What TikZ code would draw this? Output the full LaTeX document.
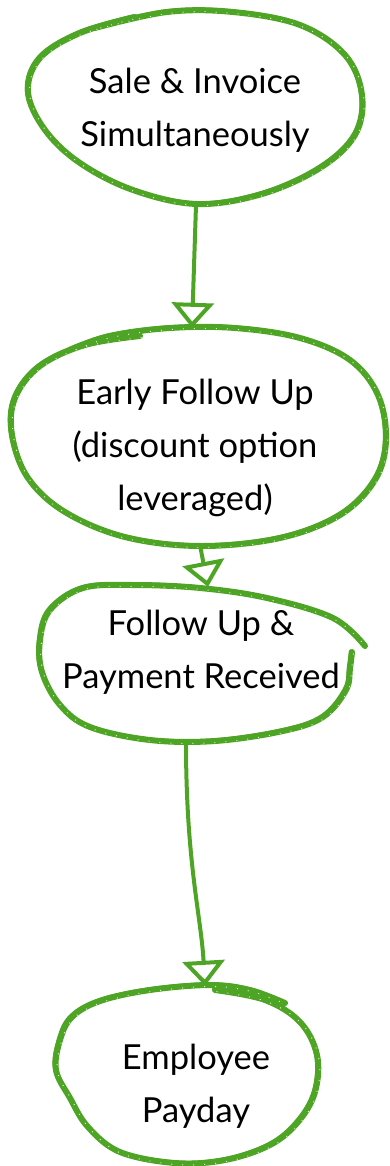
\documentclass[tikz,border=0pt]{standalone}
\usepackage{fontspec}
\setmainfont{Lato}
\usetikzlibrary{shapes.geometric,arrows.meta}
\definecolor{leaf}{RGB}{78,164,36}
\tikzset{
  x=1pt, y=-1pt,
  loop/.style={draw=leaf, line width=6pt, line cap=round, line join=round},
  loopedge/.style={draw=leaf, line width=3pt, line cap=round, line join=round},
  speck/.style={draw=white, line width=1pt, opacity=0.8,
    dash pattern=on 1pt off 10pt},
  stage/.style={shape=ellipse, inner sep=0pt, align=center, text=black,
    font=\fontsize{34.5pt}{53pt}\selectfont},
  conn/.style={draw=leaf, line width=4pt, line cap=round,
    -{Triangle[open, length=25pt, width=42pt]}},
}
% outlines of the four rings
\newcommand\ringA{plot[smooth, tension=0.6] coordinates {
  (95,28) (167,12) (233,12) (300,25) (345,55) (362,95) (355,135) (320,168)
  (262,194) (197,204) (133,190) (80,163) (45,130) (28,92) (40,58) (80,33) (135,17)}}
\newcommand\ringB{plot[smooth, tension=0.6] coordinates {
  (140,336) (85,345) (40,366) (15,398) (12,435) (28,478) (65,512) (125,537)
  (200,546) (280,538) (340,515) (375,480) (386,440) (378,395) (350,360)
  (300,338) (235,328) (170,328) (110,336) (70,350)}}
\newcommand\ringC{plot[smooth, tension=0.6] coordinates {
  (352,652) (350,668) (346,690) (323,717) (283,731) (215,741) (150,740) (90,727)
  (60,705) (42,672) (40,640) (50,610) (83,588) (133,585) (200,588) (267,598)
  (333,618) (365,646)}}
\newcommand\ringD{plot[smooth, tension=0.6] coordinates {
  (215,990) (265,1000) (300,1022) (317,1055) (315,1092) (298,1122) (270,1145)
  (225,1160) (175,1163) (120,1152) (88,1127) (70,1098) (56,1070) (60,1040)
  (72,1017) (100,1001) (150,990) (210,985) (250,990) (285,1003)}}
\begin{document}
\begin{tikzpicture}
\useasboundingbox (0,0) rectangle (389,1166);

% stages
\node[stage, minimum width=336pt, minimum height=190pt] (n1) at (195,110)
  {Sale \& Invoice\\Simultaneously};
\node[stage, minimum width=370pt, minimum height=240pt] (n2) at (195,448)
  {Early Follow Up\\(discount option\\leveraged)};
\node[stage, minimum width=330pt, minimum height=134pt] (n3) at (201,652)
  {Follow Up \&\\Payment Received};
\node[stage, minimum width=260pt, minimum height=200pt] (n4) at (196,1086)
  {Employee\\Payday};

% hand-drawn rings: a main stroke, a thinner offset pass, and chalk specks
\foreach \ring in {\ringA,\ringB,\ringC,\ringD}{
  \draw[loop] \ring;
  \draw[loopedge, xshift=-1.6pt, yshift=1.2pt] \ring;
  \draw[speck, xshift=1.5pt, yshift=-1.5pt] \ring;
}

% flow between stages
\draw[conn] ([xshift=1pt]n1.south) -- ([xshift=-3pt]n2.north);
\draw[conn] ([xshift=5pt,yshift=23pt]n2.south) -- ([xshift=7pt,yshift=-2pt]n3.north);
\draw[conn] ([xshift=-15pt,yshift=-23pt]n3.south)
  .. controls +(0,120) and +(-4,-70) .. ([xshift=9pt]n4.north);
\end{tikzpicture}
\end{document}
